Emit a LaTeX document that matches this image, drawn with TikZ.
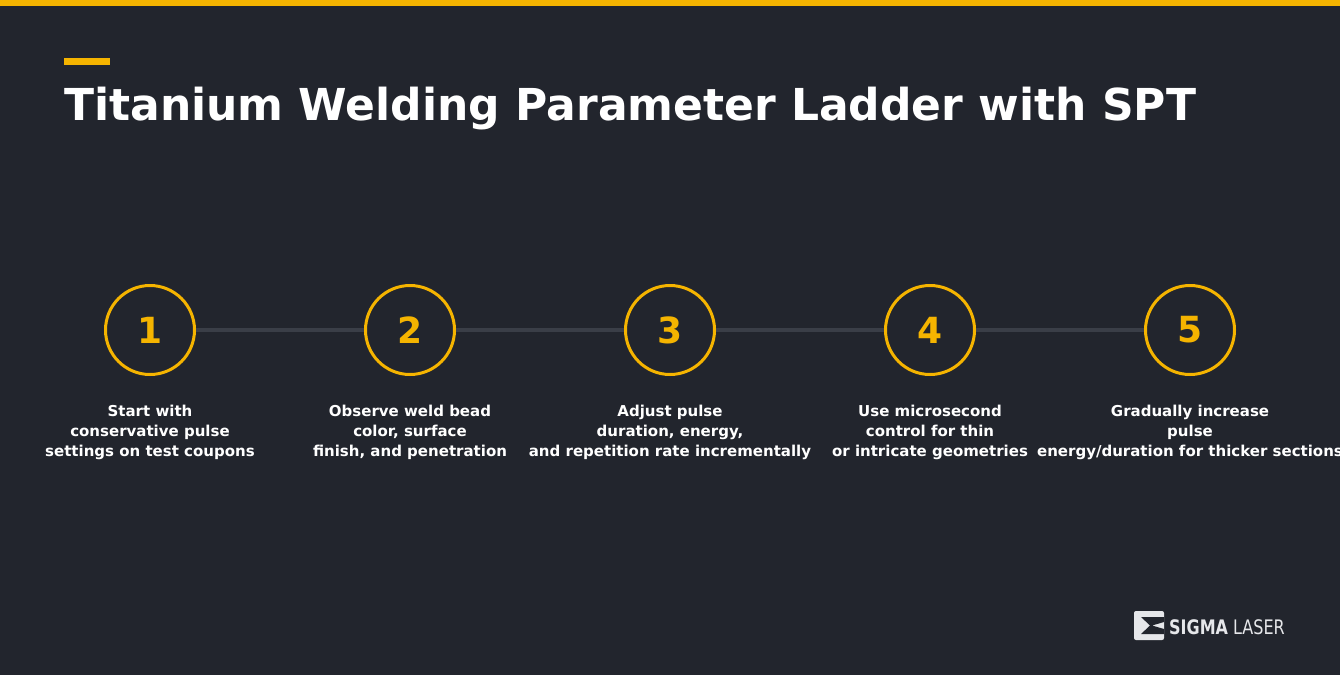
\documentclass[tikz,border=0pt]{standalone}
\usepackage{fontspec}
\setmainfont{DejaVu Sans}
\definecolor{bgdark}{HTML}{22252D}
\definecolor{accent}{HTML}{F5B400}
\definecolor{rail}{HTML}{3A3E47}
\definecolor{logogrey}{HTML}{E6E7EA}
\begin{document}
\begin{tikzpicture}[
    x=1pt, y=-1pt,
    stage/.style={circle, draw=accent, line width=3pt, minimum size=89pt, fill=bgdark,
        text=accent, font=\fontsize{36}{40}\selectfont\bfseries},
    caption/.style={align=center, text=white, font=\fontsize{15}{20}\selectfont\bfseries, anchor=north}
]

\useasboundingbox (0,0) rectangle (1340,675);
\fill[bgdark] (0,0) rectangle (1340,675);
\fill[accent] (0,0) rectangle (1340,6);
\fill[accent] (64,58) rectangle (110,65);
\node[anchor=base west, inner sep=0, text=white, font=\fontsize{44}{50}\selectfont\bfseries] (title) at (64,120) {Titanium Welding Parameter Ladder with SPT};

\draw[rail, line width=4pt] (150,330) -- (1190,330);

\node[stage] (s1) at (150,330) {1};
\node[stage] (s2) at (410,330) {2};
\node[stage] (s3) at (670,330) {3};
\node[stage] (s4) at (930,330) {4};
\node[stage] (s5) at (1190,330) {5};

\node[caption] (c1) at (150,402) {Start with\\conservative pulse\\settings on test coupons};
\node[caption] (c2) at (410,402) {Observe weld bead\\color, surface\\finish, and penetration};
\node[caption] (c3) at (670,402) {Adjust pulse\\duration, energy,\\and repetition rate incrementally};
\node[caption] (c4) at (930,402) {Use microsecond\\control for thin\\or intricate geometries};
\node[caption] (c5) at (1190,402) {Gradually increase\\pulse\\energy/duration for thicker sections};

% logo
\fill[logogrey, rounded corners=2pt] (1134,611) rectangle (1164,640);
\fill[bgdark] (1141,617) -- (1164,617) -- (1164,622) -- (1152,625.5) -- (1164,629) -- (1164,634) -- (1141,634) -- (1150,625.5) -- cycle;
\node[anchor=base west, inner sep=0, text=logogrey, font=\fontsize{20}{24}\selectfont] (logo) at (1169,634)
    {\addfontfeature{FakeStretch=0.8}\textbf{SIGMA} LASER};
\end{tikzpicture}
\end{document}
